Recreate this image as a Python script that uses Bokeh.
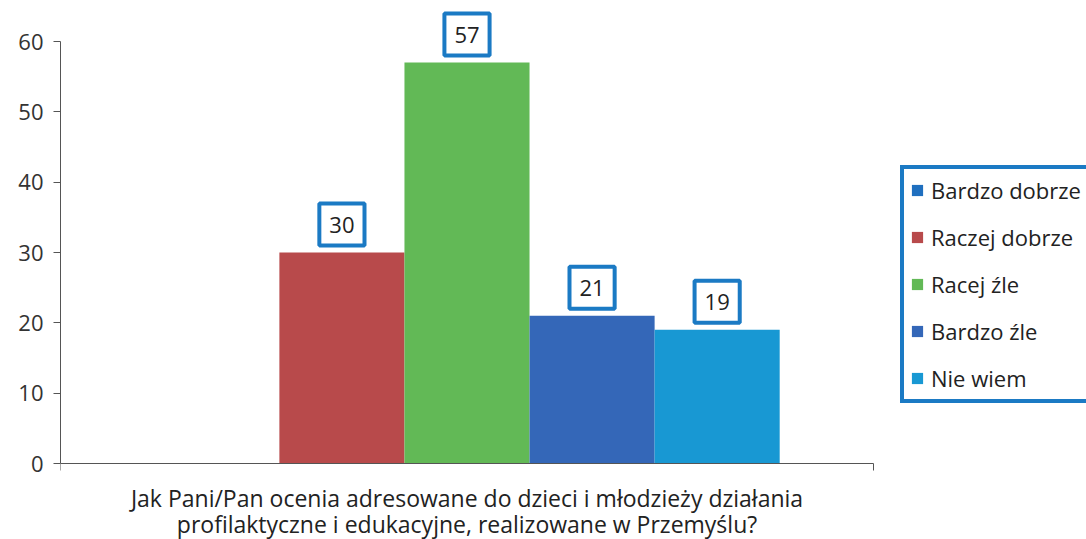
from bokeh.plotting import figure
from bokeh.models import ColumnDataSource, Range1d, FixedTicker, Legend, LegendItem, Label
from bokeh.embed import file_html
from bokeh.resources import INLINE

categories = ["Bardzo dobrze", "Raczej dobrze", "Racej źle", "Bardzo źle", "Nie wiem"]
values = [0, 30, 57, 21, 19]
colors = ["#1f6fbf", "#b84a4b", "#62b956", "#3467b8", "#1898d3"]
y_ticks = [0, 10, 20, 30, 40, 50, 60]
x_title_lines = ["Jak Pani/Pan ocenia adresowane do dzieci i młodzieży działania",
                 "profilaktyczne i edukacyjne, realizowane w Przemyślu?"]

FONT = "Open Sans"
BOX_BLUE = "#1b7ac4"
TEXT = "#222222"

W, H = 1086, 539
# pixel layout of the axes area
AX_LEFT, AX_RIGHT, AX_TOP, AX_BOTTOM = 60, 873, 41, 463
FRAME_TOP = 6

positions = list(range(len(categories)))
src = ColumnDataSource(dict(x=positions, top=values, color=colors, cat=categories))

# category axis spans [x_lo, x_hi]; the frame continues to the right edge to host the legend
x_lo, x_hi = -1.25, len(categories) + 0.25
px_x = (AX_RIGHT - AX_LEFT) / (x_hi - x_lo)
x_end = x_lo + (W - AX_LEFT) / px_x
y_max = y_ticks[-1]
px_y = (AX_BOTTOM - AX_TOP) / y_max
y_top = y_max + (AX_TOP - FRAME_TOP) / px_y
y_bottom = -(H - AX_BOTTOM) / px_y

p = figure(width=W, height=H, output_backend="svg", toolbar_location=None,
           x_range=Range1d(x_lo, x_end), y_range=Range1d(y_bottom, y_top),
           min_border_left=AX_LEFT, min_border_right=0, min_border_top=FRAME_TOP,
           min_border_bottom=0)
p.background_fill_color = "white"
p.border_fill_color = "white"
p.outline_line_color = None
p.xgrid.visible = False
p.ygrid.visible = False

r = p.vbar(x="x", top="top", width=1.0, fill_color="color", line_color=None, source=src)

# axes
p.yaxis.ticker = FixedTicker(ticks=y_ticks)
p.yaxis.bounds = (0, y_max)
p.yaxis.major_tick_out = 7
p.yaxis.major_tick_in = 0
p.yaxis.minor_tick_line_color = None
p.yaxis.axis_line_color = "#555555"
p.yaxis.major_tick_line_color = "#555555"
p.yaxis.major_label_text_font = FONT
p.yaxis.major_label_text_font_size = "22px"
p.yaxis.major_label_text_color = "#333333"
p.yaxis.major_label_standoff = 10

p.xaxis.fixed_location = 0
p.xaxis.ticker = FixedTicker(ticks=[x_lo, x_hi])
p.xaxis.bounds = (x_lo, x_hi)
p.xaxis.major_label_overrides = {x_lo: "", x_hi: ""}
p.xaxis.major_tick_out = 7
p.xaxis.major_tick_in = 0
p.xaxis.minor_tick_line_color = None
p.xaxis.axis_line_color = "#555555"
p.xaxis.major_tick_line_color = "#555555"

# category title under the axis (two centred lines)
x_mid = (x_lo + x_hi) / 2
for i, line in enumerate(x_title_lines):
    p.add_layout(Label(x=x_mid, y=0, y_offset=-34 - 26 * i, text=line, text_align="center",
                       text_baseline="middle", text_font=FONT, text_font_size="23px",
                       text_color=TEXT))

# data labels
for xv, v in zip(positions, values):
    if v > 0:
        p.add_layout(Label(x=xv, y=v, text=str(v), text_align="center", text_baseline="bottom",
                           y_offset=7, text_font=FONT, text_font_size="22px", text_color=TEXT,
                           border_line_color=BOX_BLUE, border_line_width=4,
                           background_fill_color="white", padding=(10, 13)))

# legend
items = [LegendItem(label=c, renderers=[r], index=i) for i, c in enumerate(categories)]
legend = Legend(items=items, location=(840, 136), orientation="vertical",
                border_line_color=BOX_BLUE, border_line_width=4, border_line_alpha=1.0,
                background_fill_color="white", background_fill_alpha=1.0,
                padding=6, spacing=17, label_height=30, label_width=190,
                glyph_height=14, glyph_width=14,
                label_standoff=7, label_text_font=FONT, label_text_font_size="22px",
                label_text_color=TEXT, margin=0)
p.add_layout(legend)

open("out.html", "w").write(file_html(p, INLINE))
